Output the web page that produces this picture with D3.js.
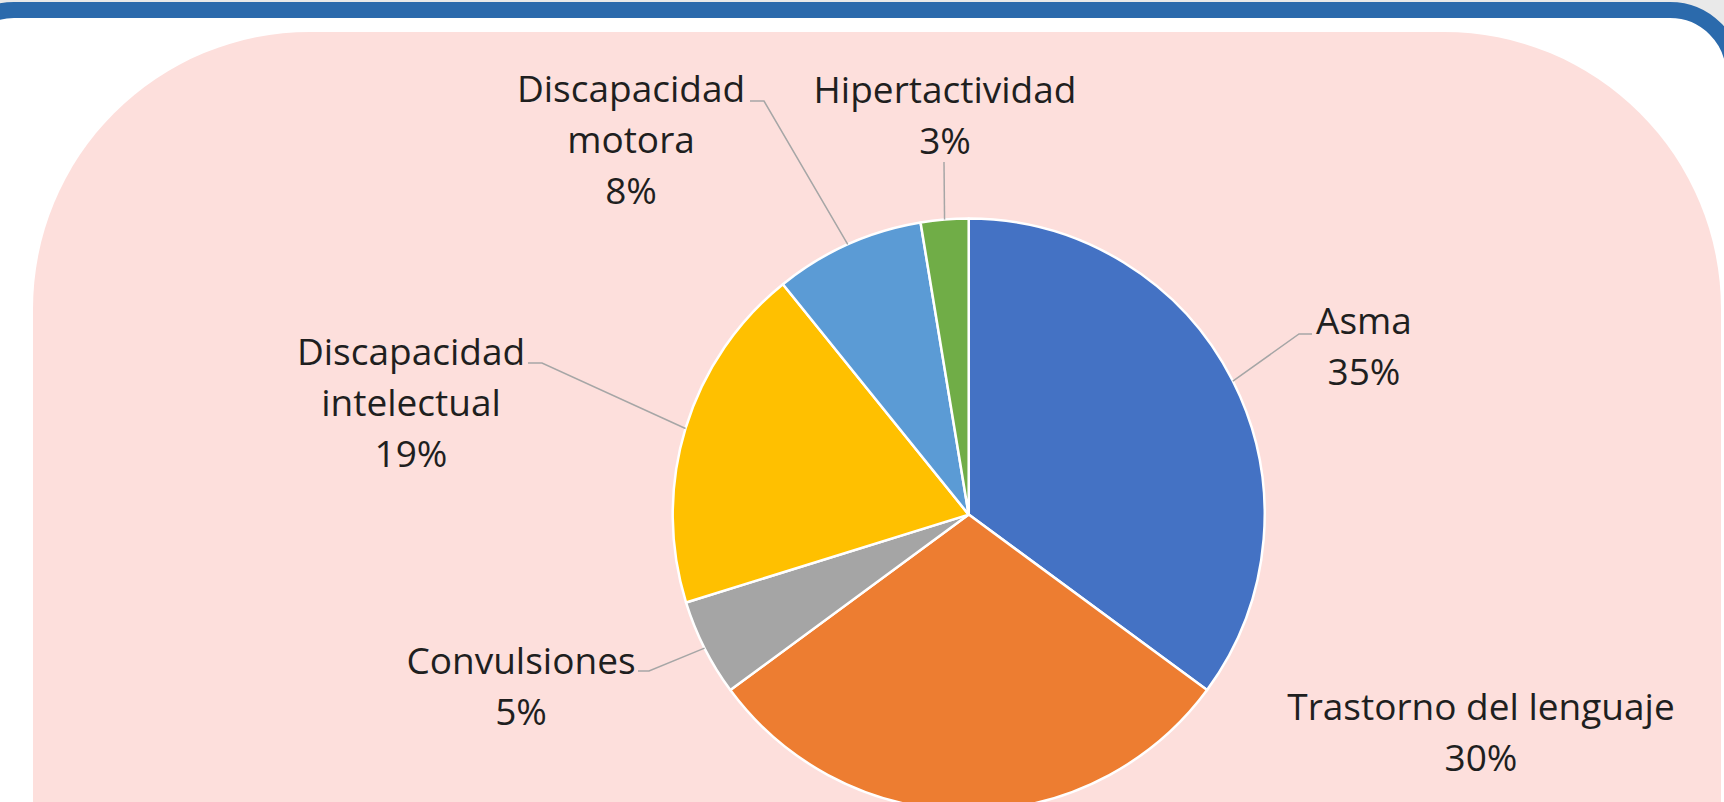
<!DOCTYPE html>
<html>
<head>
<meta charset="utf-8">
<script src="https://cdn.jsdelivr.net/npm/d3@7"></script>
<style>
  html, body { margin: 0; padding: 0; background: #e9e9e9; overflow: hidden; }
  text { font-family: "Open Sans", "Noto Sans", sans-serif; }
</style>
</head>
<body>
<svg id="chart" width="1724" height="802"></svg>
<script>
// datos del grafico
var categorias = ["Asma", "Trastorno del lenguaje", "Convulsiones", "Discapacidad intelectual", "Discapacidad motora", "Hipertactividad"];
var lineas = [["Asma"], ["Trastorno del lenguaje"], ["Convulsiones"], ["Discapacidad", "intelectual"], ["Discapacidad", "motora"], ["Hipertactividad"]];
var valores = [35.1, 29.8, 5.3, 19.0, 8.2, 2.6];
var colores = ["#4472C4", "#ED7D31", "#A5A5A5", "#FFC000", "#5B9BD5", "#70AD47"];

// ubicacion de etiquetas (x centro, y primera linea base) y codo de la guia
var etiquetaPos = [[1364, 334], [1481, 720], [521, 674], [411, 365], [631, 102], [945, 103]];
var codos = [[[1299, 334], [1312, 334]], null, [[649, 671], [638, 671]], [[542, 363], [528, 363]], [[764, 101], [750, 101]], [[944, 162]]];

var width = 1724, height = 802;
var radio = 296;
var centro = [968.7, 514.6];
var lineHeight = 51;

var svg = d3.select("#chart");

// marco azul de la pagina
svg.append("rect")
  .attr("x", -50).attr("y", 10)
  .attr("width", 1784).attr("height", 900)
  .attr("rx", 64).attr("ry", 64)
  .attr("fill", "#ffffff")
  .attr("stroke", "#2B6AAC")
  .attr("stroke-width", 16);

// panel rosado
svg.append("rect")
  .attr("x", 33).attr("y", 32)
  .attr("width", 1721 - 33).attr("height", 1200)
  .attr("rx", 277).attr("ry", 277)
  .attr("fill", "#FDDFDC");

var pie = d3.pie().sort(null).value(d => d);
var arcos = pie(valores);

var arc = d3.arc().innerRadius(0).outerRadius(radio);
var borde = d3.arc().innerRadius(radio).outerRadius(radio);

var g = svg.append("g").attr("transform", "translate(" + centro + ")");

g.selectAll("path")
  .data(arcos)
  .enter()
  .append("path")
  .attr("d", arc)
  .attr("fill", (d, i) => colores[i])
  .attr("stroke", "#ffffff")
  .attr("stroke-width", 2.5)
  .attr("stroke-linejoin", "round");

// lineas guia
var linea = d3.line();
arcos.forEach(function(d, i) {
  if (!codos[i]) return;
  var p = borde.centroid(d);
  var puntos = [[p[0] + centro[0], p[1] + centro[1]]].concat(codos[i]);
  svg.append("path")
    .attr("d", linea(puntos))
    .attr("fill", "none")
    .attr("stroke", "#A6A6A6")
    .attr("stroke-width", 1.5);
});

// etiquetas
var formato = d3.format(".0f");
var total = d3.sum(valores);
arcos.forEach(function(d, i) {
  var filas = lineas[i].concat([formato(d.value / total * 100) + "%"]);
  var t = svg.append("text")
    .attr("x", etiquetaPos[i][0])
    .attr("y", etiquetaPos[i][1])
    .attr("text-anchor", "middle")
    .attr("font-size", 37)
    .attr("fill", "#1f1f1f");
  filas.forEach(function(f, j) {
    t.append("tspan")
      .attr("x", etiquetaPos[i][0])
      .attr("y", etiquetaPos[i][1] + j * lineHeight)
      .text(f);
  });
});
</script>
</body>
</html>
